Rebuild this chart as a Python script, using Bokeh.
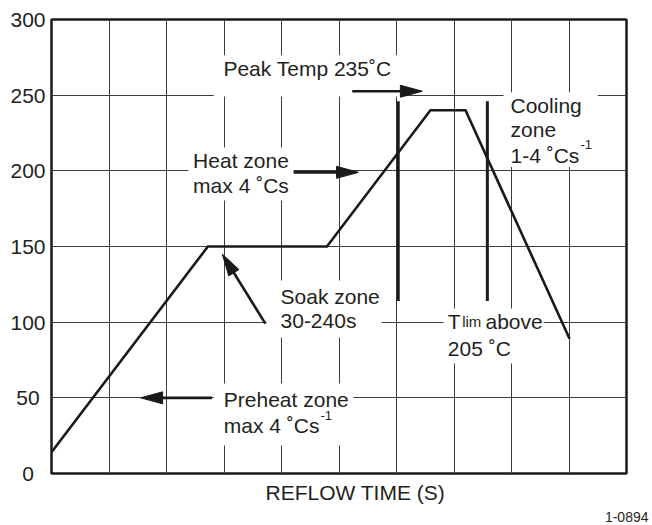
import math

from bokeh.plotting import figure
from bokeh.models import Range1d, Grid, FixedTicker, Label, Title
from bokeh.embed import file_html
from bokeh.resources import INLINE

# --- reflow profile: time in chart divisions, temperature in deg C ---
profile_time = [0.0, 2.72, 4.79, 6.59, 7.20, 9.01]
profile_temp = [14, 150, 150, 240, 240, 89]

# liquidus window markers (time above 205 deg C)
tlim_time = [6.03, 7.58]
tlim_bottom = [114, 114]
tlim_top = [246, 246]

# axis ticks / grid
y_ticks = [0, 50, 100, 150, 200, 250, 300]
y_tick_labels = ["0", "50", "100", "150", "200", "250", "300"]
x_divisions = list(range(11))

X_MAX, Y_MAX = 10, 300
FRAME_W, FRAME_H = 575, 454
INK = "#231f20"
FONT = "Liberation Sans"

# callout arrows (tail -> tip)
arrow_tail_x = [5.23, 4.21, 3.72, 2.79]
arrow_tail_y = [252.6, 199, 99, 50]
arrow_tip_x = [6.45, 5.34, 2.97, 1.55]
arrow_tip_y = [252.6, 199, 145, 50]

# white panels behind the callout texts
panel_left = [2.82, 2.38, 7.86, 3.74, 6.82, 2.82]
panel_right = [6.16, 4.21, 9.50, 5.74, 8.56, 5.25]
panel_top = [276.3, 215.5, 252.0, 127.6, 109.1, 59.5]
panel_bottom = [249.2, 180.4, 202.5, 89.9, 72.7, 18.5]

# callout text lines: text, x, baseline y
callout_text = ["Peak Temp 235˚C", "Heat zone", "max 4 ˚Cs", "Cooling", "zone",
                "1-4 ˚Cs", "Soak zone", "30-240s", "T", "above", "205 ˚C",
                "Preheat zone", "max 4 ˚Cs"]
callout_x = [2.99, 2.463, 2.463, 7.983, 7.983, 7.983, 3.983, 3.983,
             6.892, 7.548, 6.892, 2.997, 2.997]
callout_y = [267.6, 207.0, 190.5, 243.0, 227.3, 210.4, 116.8, 100.9,
             100.2, 100.2, 82.6, 48.9, 31.9]

# small-print parts: subscript "lim" and the "-1" exponents
small_text = ["lim", "-1", "-1"]
small_x = [7.142, 9.20, 4.678]
small_y = [100.2, 217.4, 38.5]
small_size = ["15px", "13px", "13px"]


def centred(label, width=3):
    # pad with figure/punctuation spaces so labels sit centred on a 3-digit slot
    missing = width - len(label)
    return label + "\u2007" * (missing // 2) + "\u2008" * (missing % 2)


p = figure(
    frame_width=FRAME_W, frame_height=FRAME_H,
    x_range=Range1d(0, X_MAX), y_range=Range1d(0, Y_MAX),
    x_axis_location=None, y_axis_location="left",
    toolbar_location=None, output_backend="svg",
    min_border_left=51, min_border_right=26,
    min_border_top=19, min_border_bottom=52,
    outline_line_color="#1a1a1a", outline_line_width=2.5,
    background_fill_color="white", border_fill_color="white",
)

# temperature axis: labels only, the frame outline is the axis line
p.yaxis.ticker = FixedTicker(ticks=y_ticks)
p.yaxis.major_label_overrides = {v: centred(lab) for v, lab in zip(y_ticks, y_tick_labels)}
p.yaxis.axis_line_color = None
p.yaxis.major_tick_line_color = None
p.yaxis.minor_tick_line_color = None
p.yaxis.major_tick_out = 0
p.yaxis.major_tick_in = 0
p.yaxis.major_label_standoff = 6
p.yaxis.major_label_text_font = FONT
p.yaxis.major_label_text_font_size = "21px"
p.yaxis.major_label_text_color = INK

p.ygrid.grid_line_color = "#3c3c3c"
p.ygrid.grid_line_width = 1
p.add_layout(Grid(dimension=0, ticker=FixedTicker(ticks=x_divisions),
                  grid_line_color="#3c3c3c", grid_line_width=1))

# panels that keep the grid out from under the callouts
p.quad(left=panel_left, right=panel_right, top=panel_top, bottom=panel_bottom,
       fill_color="white", line_color=None)

# temperature profile
p.line(profile_time, profile_temp, line_color="#1a1a1a", line_width=2.6,
       line_join="miter")

# liquidus window markers
p.segment(x0=tlim_time, y0=tlim_bottom, x1=tlim_time, y1=tlim_top,
          line_color="#1a1a1a", line_width=3)

# callout arrows with long, narrow heads
sx = FRAME_W / X_MAX
sy = FRAME_H / Y_MAX
head_xs, head_ys, shaft_x1, shaft_y1 = [], [], [], []
for tx, ty, hx, hy in zip(arrow_tail_x, arrow_tail_y, arrow_tip_x, arrow_tip_y):
    dx, dy = (hx - tx) * sx, (hy - ty) * sy
    d = math.hypot(dx, dy)
    ux, uy = dx / d, dy / d
    length, half = 22.0, 6.0
    bx, by = hx * sx - ux * length, hy * sy - uy * length
    nx, ny = -uy * half, ux * half
    head_xs.append([hx, (bx + nx) / sx, (bx - nx) / sx])
    head_ys.append([hy, (by + ny) / sy, (by - ny) / sy])
    shaft_x1.append((bx + ux * 3) / sx)
    shaft_y1.append((by + uy * 3) / sy)

p.segment(x0=arrow_tail_x, y0=arrow_tail_y, x1=shaft_x1, y1=shaft_y1,
          line_color="#1a1a1a", line_width=2.6)
p.patches(head_xs, head_ys, fill_color="#1a1a1a", line_color="#1a1a1a",
          line_width=1)

# callout texts
for t, x, y in zip(callout_text, callout_x, callout_y):
    p.add_layout(Label(x=x, y=y, text=t, text_font=FONT, text_font_size="21px",
                       text_color=INK, text_align="left",
                       text_baseline="alphabetic"))
for t, x, y, s in zip(small_text, small_x, small_y, small_size):
    p.add_layout(Label(x=x, y=y, text=t, text_font=FONT, text_font_size=s,
                       text_color=INK, text_align="left",
                       text_baseline="alphabetic"))

# axis title and figure number under the frame
p.add_layout(Title(text="REFLOW TIME (S)", align="left", offset=214,
                   standoff=10, text_font=FONT, text_font_size="21px",
                   text_font_style="normal", text_color=INK), "below")
p.add_layout(Title(text="1-0894", align="right", offset=-22, standoff=2,
                   text_font=FONT, text_font_size="14px",
                   text_font_style="normal", text_color=INK), "below")

open("out.html", "w").write(file_html(p, INLINE))
